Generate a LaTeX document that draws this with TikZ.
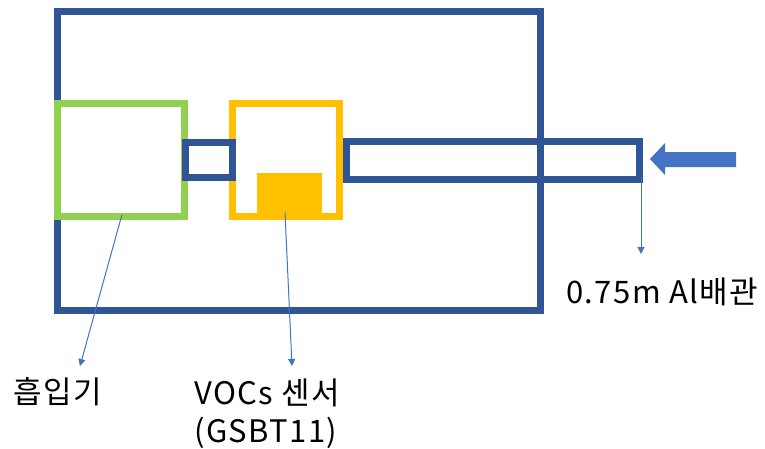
\documentclass[tikz,border=0pt]{standalone}
\usepackage{fontspec}
\setmainfont[LetterSpace=4.5]{Noto Sans CJK KR}
\usetikzlibrary{arrows.meta}
\definecolor{frameblue}{HTML}{2F5597}
\definecolor{arrowblue}{HTML}{4472C4}
\definecolor{pumpgreen}{HTML}{92D050}
\definecolor{sensoryellow}{HTML}{FFC000}
\tikzset{
  boxline/.style={draw, line width=7pt, inner sep=0pt, outer sep=0pt},
  thinarrow/.style={draw=arrowblue, line width=1pt, -{Triangle[width=7pt,length=7pt]}},
  lbl/.style={inner sep=0pt, font=\fontsize{31}{38}\selectfont, text=black}
}
\begin{document}
\begin{tikzpicture}[x=1pt,y=-1pt]
\useasboundingbox (0,0) rectangle (765,448);
% outer frame
\node[boxline, draw=frameblue, minimum width=482.5pt, minimum height=298.5pt] (frame) at (298.75,160.75) {};
% pump (green) and sensor (yellow)
\node[boxline, draw=pumpgreen, minimum width=127pt, minimum height=113.5pt] (pump) at (121,159.75) {};
\node[boxline, draw=sensoryellow, minimum width=107.5pt, minimum height=113.5pt] (sensor) at (285.75,159.75) {};
\node[fill=sensoryellow, inner sep=0pt, minimum width=65pt, minimum height=43.5pt] (chip) at (289.5,194.75) {};
% connector tube between pump and sensor
\node[boxline, draw=frameblue, minimum width=47pt, minimum height=35pt] (tube) at (208.5,160) {};
% Al pipe
\node[boxline, draw=frameblue, line width=6.5pt, minimum width=293pt, minimum height=38pt] (pipe) at (493,160.5) {};
% inflow arrow
\fill[arrowblue] (736,152) -- (665,152) -- (665,143) -- (650,159) -- (665,175) -- (665,167) -- (736,167) -- cycle;
% labels
\node[lbl, anchor=west] (lpump) at (13,392) {흡입기};
\node[lbl, anchor=west, align=left] (lsensor) at (194,414) {VOCs 센서\\(GSBT11)};
\node[lbl, anchor=west] (lpipe) at (566,292) {0.75m Al배관};
% pointer arrows
\coordinate (tpump) at (80,366);
\coordinate (tsensor) at (292,366);
\coordinate (tpipe) at (641,254);
\draw[thinarrow] ([xshift=1pt,yshift=2pt]pump.south) -- (tpump);
\draw[thinarrow] ([xshift=-0.75pt,yshift=4pt]sensor.south) -- (tsensor);
\draw[thinarrow] ([xshift=1.5pt,yshift=3pt]pipe.south east) -- (tpipe);
\end{tikzpicture}
\end{document}
